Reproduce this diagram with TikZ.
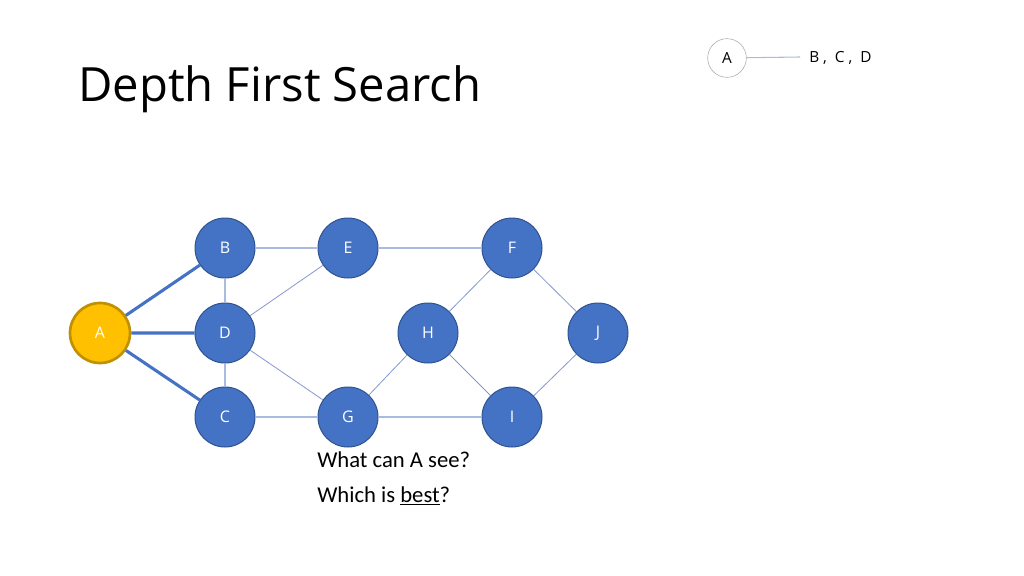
\documentclass[tikz,border=0pt]{standalone}
\usepackage{fontspec}
\setmainfont{Open Sans}
\newfontfamily\bodyfont{Carlito}
\definecolor{nodeblue}{HTML}{4472C4}
\definecolor{nodeedge}{HTML}{2F528F}
\definecolor{gold}{HTML}{FFC000}
\definecolor{goldedge}{HTML}{BF9000}
\definecolor{paleline}{HTML}{A9BCE0}
\definecolor{thinline}{HTML}{8497D0}
\tikzset{
  vertex/.style={circle,fill=nodeblue,draw=nodeedge,line width=.75pt,
    minimum size=45pt,inner sep=0pt,text=white,font=\fontsize{12}{14}\selectfont},
  start/.style={vertex,fill=gold,draw=goldedge,line width=2pt},
  pale/.style={paleline,line width=1.1pt},
  thin/.style={thinline,line width=.6pt},
  seen/.style={nodeblue,line width=2.3pt}
}
\begin{document}
\begin{tikzpicture}[x=.75pt,y=-.75pt]
  \useasboundingbox (0,0) rectangle (1024,575);
  \node[anchor=base west,inner sep=0pt,font=\fontsize{35.4}{40}\selectfont] (title) at (78,101) {Depth First Search};
  % legend
  \node[circle,draw=black!35,minimum size=29pt,inner sep=0pt,font=\fontsize{11.5}{13}\selectfont] (key) at (727,58) {A};
  \coordinate (keyend) at (800,57);
  \draw[paleline,line width=.8pt] (key) -- (keyend);
  \node[anchor=west,inner sep=0pt,font=\fontsize{11.5}{13}\selectfont] (keytext) at (809,58) {B ,\ \ C ,\ \ D};
  % graph
  \node[start] (A) at (100,333) {A};
  \node[vertex] (B) at (225,248) {B};
  \node[vertex] (D) at (225,333) {D};
  \node[vertex] (C) at (225,417) {C};
  \node[vertex] (E) at (348,248) {E};
  \node[vertex] (G) at (348,417) {G};
  \node[vertex] (H) at (428,333) {H};
  \node[vertex] (F) at (512,248) {F};
  \node[vertex] (I) at (512,417) {I};
  \node[vertex] (J) at (598,333) {J};
  \draw[pale] (B) -- (D) (D) -- (C) (B) -- (E) (E) -- (F) (C) -- (G) (G) -- (I);
  \draw[thin] (D) -- (E) (D) -- (G) (G) -- (H) (H) -- (F) (H) -- (I) (F) -- (J) (I) -- (J);
  \draw[seen] (A) -- (B) (A) -- (D) (A) -- (C);
  \node[anchor=base west,inner sep=0pt,font=\bodyfont\fontsize{17}{20}\selectfont] (q1) at (317,467) {What can A see?};
  \node[anchor=base west,inner sep=0pt,font=\bodyfont\fontsize{17}{20}\selectfont] (q2) at (317,502) {Which is \underline{best}?};
\end{tikzpicture}
\end{document}
